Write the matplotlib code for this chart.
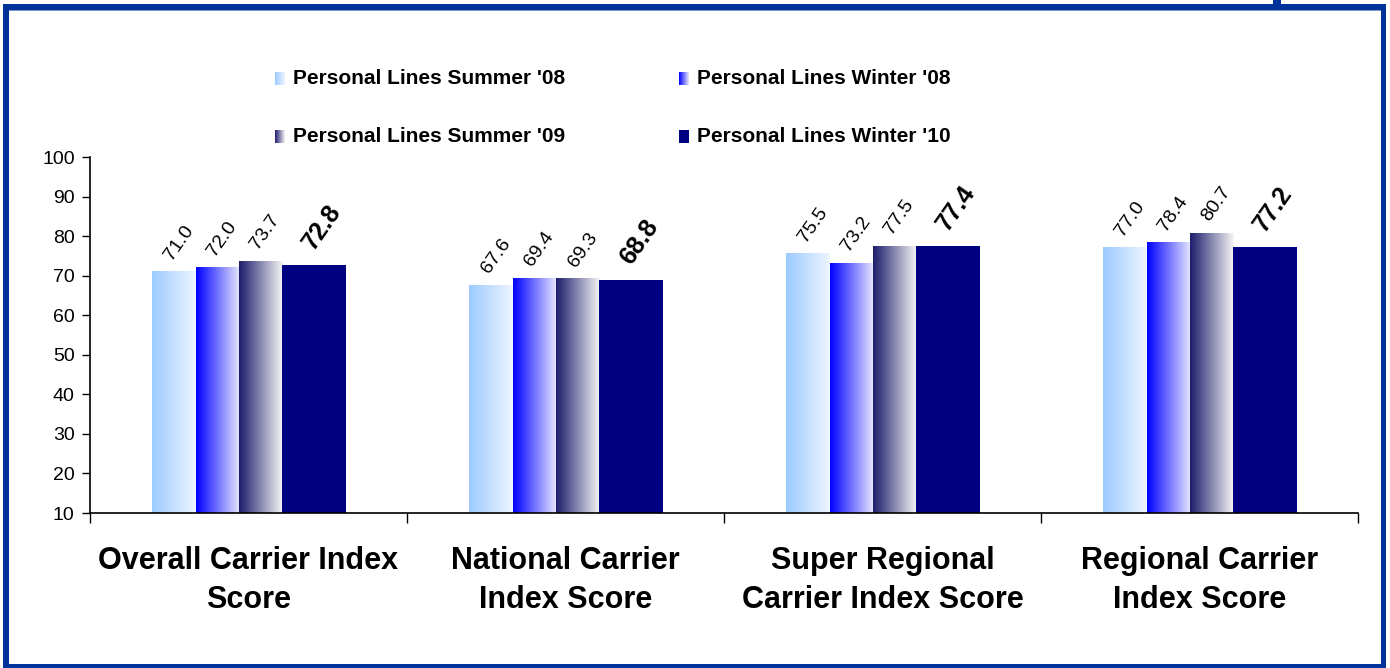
import numpy as np
import matplotlib
matplotlib.use('Agg')
import matplotlib.pyplot as plt
from matplotlib.colors import to_rgb
from matplotlib.patches import Rectangle

plt.rcParams['font.family'] = ['Liberation Sans', 'DejaVu Sans']

categories = ['Overall Carrier Index\nScore', 'National Carrier\nIndex Score',
              'Super Regional\nCarrier Index Score', 'Regional Carrier\nIndex Score']
series_names = ["Personal Lines Summer '08", "Personal Lines Winter '08",
                "Personal Lines Summer '09", "Personal Lines Winter '10"]
summer08 = [71.0, 67.6, 75.5, 77.0]
winter08 = [72.0, 69.4, 73.2, 78.4]
summer09 = [73.7, 69.3, 77.5, 80.7]
winter10 = [72.8, 68.8, 77.4, 77.2]
yticks = list(range(10, 101, 10))

# style: (left colour, right colour) of each bar's horizontal gradient
fills = [('#9ccbff', '#eef5ff'), ('#0000ff', '#e8e8ff'),
         ('#1c1c6c', '#f6f6f6'), ('#000080', '#000080')]
offsets = [-0.304, -0.167, -0.030, 0.107]
widths = [0.137, 0.137, 0.137, 0.200]
border = '#003399'


def grad(c0, c1, n=256):
    a = np.array(to_rgb(c0))
    b = np.array(to_rgb(c1))
    t = np.linspace(0, 1, n)[:, None]
    return (a + (b - a) * t)[None, :, :]


fig = plt.figure(figsize=(13.9, 6.68), dpi=100)

# frame + legend drawn in pixel space
ov = fig.add_axes([0, 0, 1, 1])
ov.set_xlim(0, 1390)
ov.set_ylim(668, 0)
ov.axis('off')
ov.add_patch(Rectangle((3, 3.5), 1383, 6, color=border, lw=0))
ov.add_patch(Rectangle((8, 9.5), 1373, 1.5, color='#7d95d2', lw=0))
ov.add_patch(Rectangle((3, 3.5), 5.5, 665, color=border, lw=0))
ov.add_patch(Rectangle((1380.5, 3.5), 5.5, 665, color=border, lw=0))
ov.add_patch(Rectangle((3, 664), 1383, 4, color=border, lw=0))
ov.add_patch(Rectangle((1273, 0), 8, 5, color=border, lw=0))

leg_pos = [(275, 79), (679, 79), (275, 137), (679, 137)]
for (lx, ly), (c0, c1), name in zip(leg_pos, fills, series_names):
    ov.imshow(grad(c0, c1), extent=[lx, lx + 10, ly + 6.5, ly - 6.5], aspect='auto')
    ov.text(lx + 18, ly, name, fontsize=15, fontweight='bold', va='center', ha='left')
ov.set_xlim(0, 1390)
ov.set_ylim(668, 0)

ax = fig.add_axes([90 / 1390, 155 / 668, 1268 / 1390, 356 / 668])
ax.patch.set_alpha(0)
x = np.arange(len(categories))
all_vals = [summer08, winter08, summer09, winter10]
for k, vals in enumerate(all_vals):
    c0, c1 = fills[k]
    bars = ax.bar(x + offsets[k], vals, width=widths[k], align='edge',
                  color='none' if c0 != c1 else c0, lw=0, zorder=2)
    for r, v in zip(bars, vals):
        if c0 != c1:
            ax.imshow(grad(c0, c1), extent=[r.get_x(), r.get_x() + r.get_width(), 0, v],
                      aspect='auto', zorder=2)
        cx = r.get_x() + r.get_width() / 2
        if k == 3:
            ax.annotate(f'{v:.1f}', (cx, v), xytext=(8, 38), textcoords='offset pixels',
                        rotation=55, ha='center', va='center', fontsize=18, fontweight='bold')
        else:
            ax.annotate(f'{v:.1f}', (cx, v), xytext=(5, 29), textcoords='offset pixels',
                        rotation=55, ha='center', va='center', fontsize=14)

ax.set_xlim(-0.5, len(categories) - 0.5)
ax.set_ylim(10, 100)
ax.set_yticks(yticks)
ax.tick_params(axis='y', direction='out', length=6, width=1, labelsize=14, pad=5)
ax.set_xticks(x)
ax.set_xticklabels(categories, fontsize=22, fontweight='bold', linespacing=1.38)
ax.set_xticks(np.arange(-0.5, len(categories), 1), minor=True)
ax.tick_params(axis='x', which='major', length=0, pad=24)
ax.tick_params(axis='x', which='minor', direction='out', length=7, width=1)
for s in ['top', 'right']:
    ax.spines[s].set_visible(False)
for s in ['left', 'bottom']:
    ax.spines[s].set_linewidth(1.2)

fig.savefig('out.png', dpi=100)
